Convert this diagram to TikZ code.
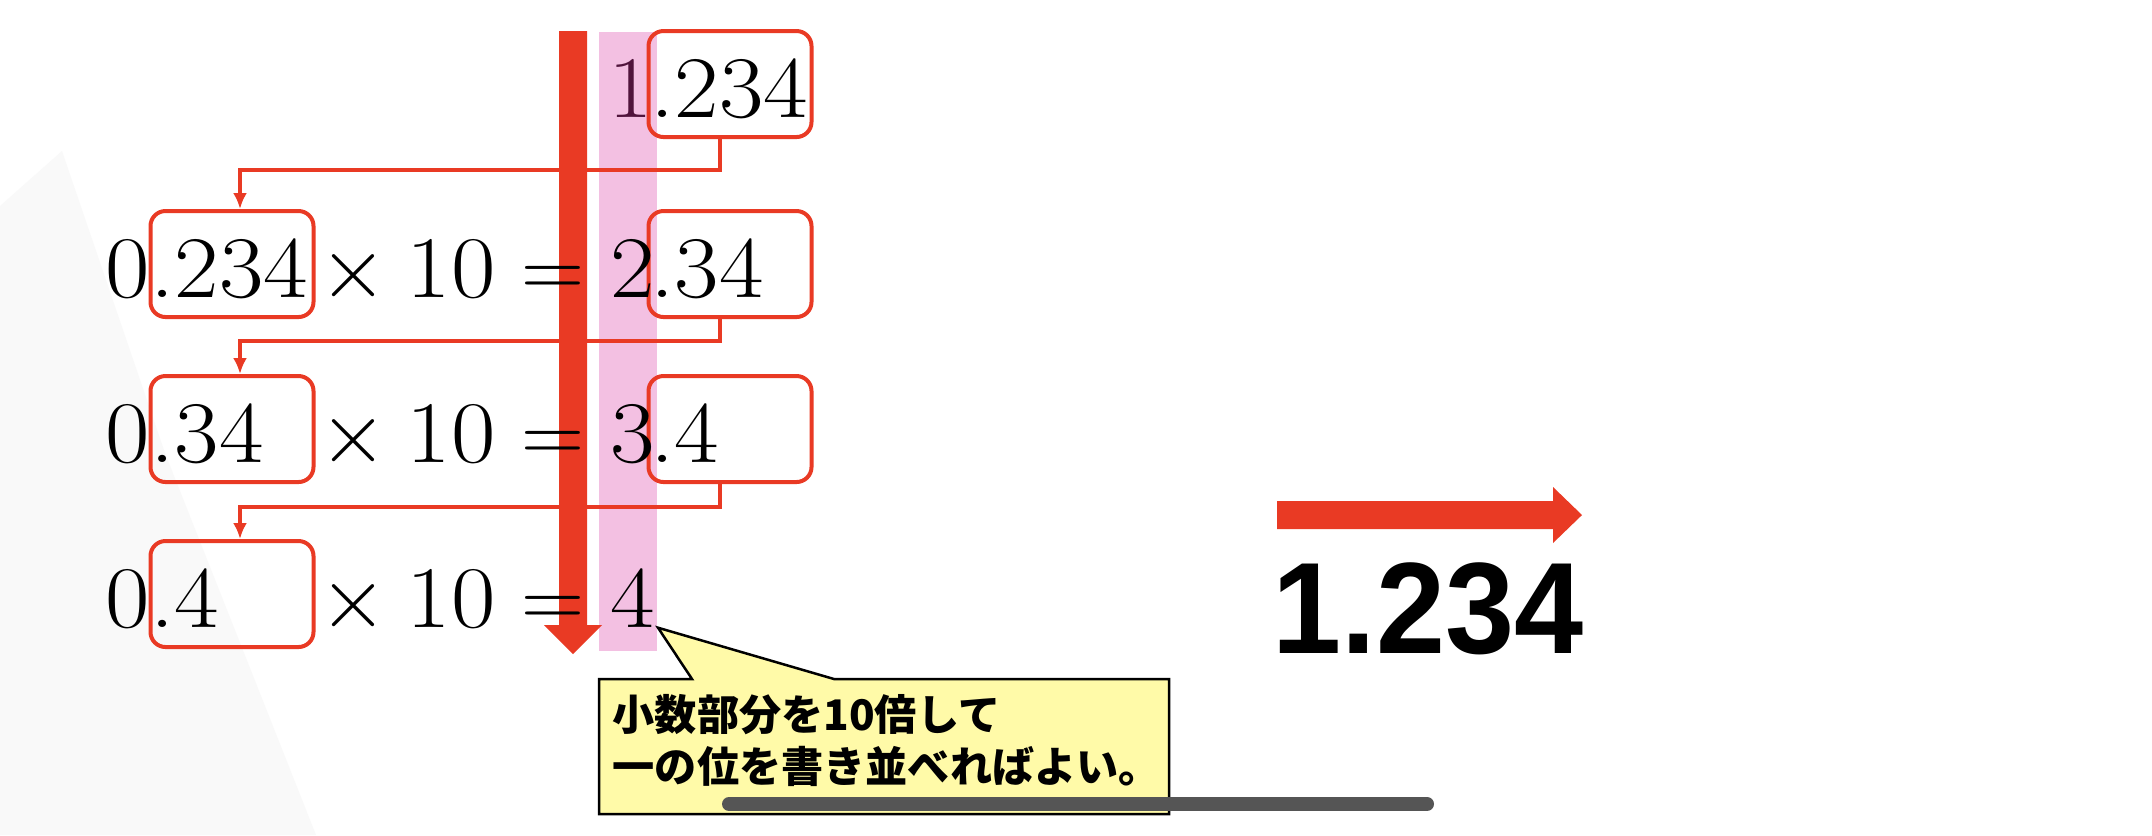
\documentclass[tikz,border=0pt]{standalone}
\usepackage{fontspec}
\newfontfamily\cjk{Noto Sans CJK JP}
\newfontfamily\sansnum{Liberation Sans}[FakeStretch=0.955]
\newfontfamily\numfont{Latin Modern Roman}[FakeStretch=1.1]
\usepackage{tikz}
\definecolor{markred}{RGB}{233, 58, 36}
\definecolor{stripepink}{RGB}{243, 192, 226}
\definecolor{notebg}{RGB}{255, 250, 168}
\definecolor{onepurple}{RGB}{80, 20, 60}
\definecolor{bargray}{RGB}{85, 85, 85}
\usetikzlibrary{arrows.meta}

\begin{document}
\begin{tikzpicture}[x=0.1mm, y=-0.1mm,
				>={Latex[length=1.6mm,width=1.4mm]},   %Pfeilspitzen
				fracbox/.style={draw=markred, line width=0.4mm, rounded corners=1.5mm, minimum width=16.3mm, minimum height=10.6mm, inner sep=0pt},
				num/.style={inner sep=0pt, font=\numfont\fontsize{25}{30}\selectfont},
				link/.style={markred, line width=0.4mm}]
				%Hintergrund
				\fill[white] (0,0) rectangle (2152,835);
				\useasboundingbox (0,0) rectangle (2152,835);
				\fill[gray!5] (0,206) -- (62,151) -- (165,453) -- (316,835) -- (0,835) -- cycle;
				% Streifen der Einerstellen
				\fill[stripepink] (599,32) rectangle (657,651);
				% Kaesten der Nachkommastellen
				\foreach \r/\y in {1/117, 2/297, 3/462}
					\node[fracbox] (fr\r) at (730,\y-33) {};
				\foreach \r/\y in {2/297, 3/462, 4/627}
					\node[fracbox] (fl\r) at (232,\y-33) {};
				% Verbindungen
				\foreach \a/\b/\d in {1/2/31, 2/3/22, 3/4/23}
					\draw[link,->] ([xshift=-1mm]fr\a.south) -- ++(0,\d) -| ([xshift=0.8mm]fl\b.north);
				% dicker Pfeil nach unten
				\fill[markred] (559,31) -- (587,31) -- (587,625) -- (602,625) -- (573,654) -- (544,625) -- (559,625) -- cycle;
				% Zahlen rechts
				\foreach \r/\y/\nk in {1/117/.234, 2/297/.34, 3/462/.4}
					\node[num, anchor=base west] (nr\r) at (650,\y) {\nk};
				\node[num, anchor=base east, onepurple] (ir1) at (654,117) {1};
				\foreach \r/\y in {2/297, 3/462, 4/627}
					\node[num, anchor=base east] (ir\r) at (656,\y) {\r};
				% Zahlen links
				\foreach \r/\y/\nk in {2/297/.234, 3/462/.34, 4/627/.4} {
					\node[num, anchor=base west] (nl\r) at (150,\y) {\nk};
					\node[num, anchor=base east] (il\r) at (151,\y) {0};
					\node[num, anchor=base] (mul\r) at (353,\y) {$\times$};
					\node[num, anchor=base] (ten\r) at (451,\y) {10};
					\node[num, anchor=base] (eq\r) at (553,\y) {$=$};
				}
				%Ergebnis
				\fill[markred] (1277,501) -- (1553,501) -- (1553,487) -- (1582,515) -- (1553,543) -- (1553,529) -- (1277,529) -- cycle;
				\node[anchor=base west, inner sep=0pt, font=\sansnum\bfseries\fontsize{37}{40}\selectfont] (res) at (1272,653) {1.234};
				%Sprechblase
				\filldraw[fill=notebg, draw=black, line width=0.25mm] (599,679) -- (692,679) -- ([xshift=0.2mm]ir4.south east) -- (834,679) -- (1169,679) -- (1169,814) -- (599,814) -- cycle;
				\node[anchor=north west, align=left, inner sep=0pt, font=\cjk\bfseries\fontsize{12}{14.8}\selectfont] (note) at (612,694) {小数部分を10倍して\\一の位を書き並べればよい。};
				\draw[bargray, line width=1.4mm, line cap=round] (729,804) -- (1427,804);
			\end{tikzpicture}
\end{document}
